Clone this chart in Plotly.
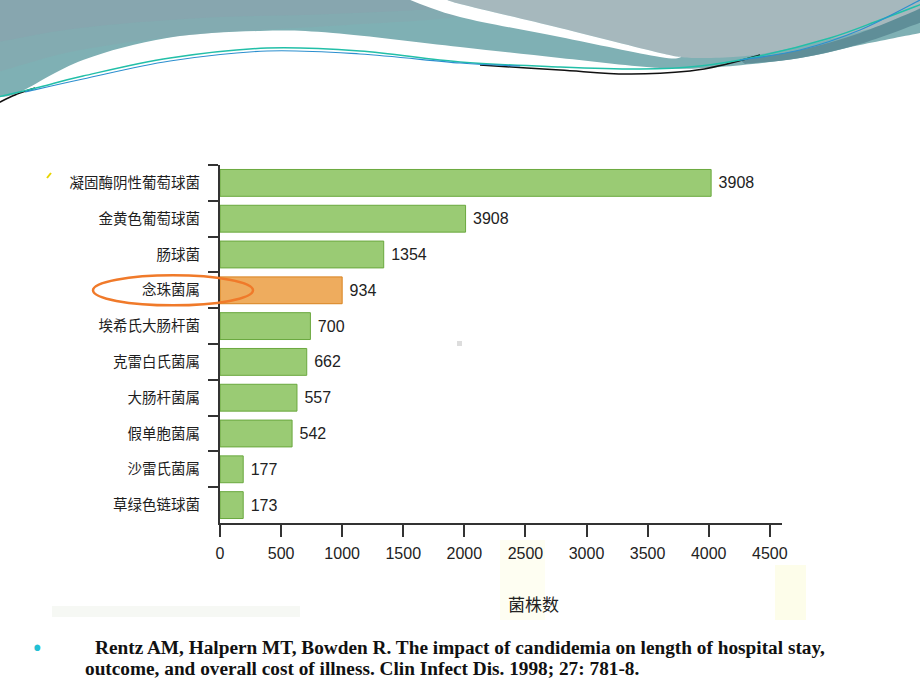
import plotly.graph_objects as go

# ---------------- data ----------------
categories = ["凝固酶阴性葡萄球菌", "金黄色葡萄球菌", "肠球菌", "念珠菌属", "埃希氏大肠杆菌",
              "克雷白氏菌属", "大肠杆菌属", "假单胞菌属", "沙雷氏菌属", "草绿色链球菌"]
bar_lengths = [4020, 2010, 1340, 1000, 740, 710, 630, 590, 190, 190]
value_labels = ["3908", "3908", "1354", "934", "700", "662", "557", "542", "177", "173"]
x_ticks = [0, 500, 1000, 1500, 2000, 2500, 3000, 3500, 4000, 4500]
x_title = "菌株数"
highlight = "念珠菌属"
citation_1 = "Rentz AM, Halpern MT, Bowden R. The impact of candidemia on length of hospital stay,"
citation_2 = "outcome, and overall cost of illness. Clin Infect Dis. 1998; 27: 781-8."

# ---------------- layout geometry ----------------
W, H = 920, 690
L, R, T, B = 220, 138, 165, 167
PW, PH = W - L - R, H - T - B


def px(x):
    return (x - L) / PW


def py(y):
    return (H - B - y) / PH


def smooth(points):
    """Catmull-Rom spline through pixel points -> SVG path in paper coords."""
    pts = [(px(a), py(b)) for a, b in points]
    d = "M%.5f,%.5f" % pts[0]
    n = len(pts)
    for i in range(n - 1):
        p0 = pts[i - 1] if i > 0 else pts[i]
        p1, p2 = pts[i], pts[i + 1]
        p3 = pts[i + 2] if i + 2 < n else pts[i + 1]
        c1 = (p1[0] + (p2[0] - p0[0]) / 6, p1[1] + (p2[1] - p0[1]) / 6)
        c2 = (p2[0] - (p3[0] - p1[0]) / 6, p2[1] - (p3[1] - p1[1]) / 6)
        d += " C%.5f,%.5f %.5f,%.5f %.5f,%.5f" % (c1 + c2 + p2)
    return d


def poly_smooth(top, bottom):
    return smooth(top) + " L" + smooth(bottom)[1:] + " Z"


colors = ["#eeac5e" if c == highlight else "#9acb74" for c in categories]
line_colors = ["#d9831f" if c == highlight else "#6aa83e" for c in categories]

NUM_FONT = "Liberation Sans, Arial, sans-serif"

fig = go.Figure()
fig.add_trace(go.Bar(
    y=categories, x=bar_lengths, orientation="h",
    marker=dict(color=colors, line=dict(color=line_colors, width=1)),
    text=value_labels, texttemplate="\u00a0%{text}", textposition="outside", cliponaxis=False,
    textfont=dict(family=NUM_FONT, size=16, color="#222222"),
    hoverinfo="skip",
))

shapes = []
# header decoration
teal_path = "M%.5f,%.5f L%.5f,%.5f L" % (px(-2), py(-2), px(922), py(-2)) + \
    "%.5f,%.5f L" % (px(922), py(33)) + \
    smooth([(920, 33), (860, 45), (800, 58), (720, 67), (660, 68), (560, 58), (460, 47),
            (333, 33), (260, 31), (167, 38), (83, 60), (20, 92), (0, 97)])[1:] + \
    " L%.5f,%.5f Z" % (px(-2), py(98))
shapes.append(dict(type="path", xref="paper", yref="paper", path=teal_path,
                   fillcolor="#7fb0b4", line=dict(width=0), layer="below"))
# upper-left gray tint (two soft layers)
shapes.append(dict(type="path", xref="paper", yref="paper",
                   path="M%.5f,%.5f L%.5f,%.5f L" % (px(-2), py(-2), px(420), py(-2)) +
                   smooth([(420, 0), (460, 16), (330, 26), (200, 34), (80, 50), (-2, 72)])[1:] + " Z",
                   fillcolor="#8ca2ad", line=dict(width=0), layer="below", opacity=0.35))
shapes.append(dict(type="path", xref="paper", yref="paper",
                   path="M%.5f,%.5f L%.5f,%.5f L" % (px(-2), py(-2), px(420), py(-2)) +
                   smooth([(420, 0), (440, 8), (330, 14), (200, 18), (80, 28), (-2, 42)])[1:] + " Z",
                   fillcolor="#8ca2ad", line=dict(width=0), layer="below", opacity=0.5))
dome = "M%.5f,%.5f L%.5f,%.5f L%.5f,%.5f L" % (px(443), py(-2), px(922), py(-2), px(922), py(8)) + \
    smooth([(920, 8), (893, 22), (827, 40), (767, 53), (733, 57), (700, 58), (680, 57),
            (660, 53), (560, 28), (460, 4), (443, -2)])[1:] + " Z"
shapes.append(dict(type="path", xref="paper", yref="paper", path=dome,
                   fillcolor="#a6b8bd", line=dict(width=0), layer="below"))
shapes.append(dict(type="path", xref="paper", yref="paper",
                   path=poly_smooth([(740, 60), (800, 50), (860, 33), (922, 8)],
                                    [(922, 22), (860, 44), (800, 58), (745, 64)]),
                   fillcolor="#5f8e98", line=dict(width=0), layer="below"))
stripe = poly_smooth([(405, -2), (460, 17), (560, 37), (660, 57), (682, 57)],
                     [(682, 57), (660, 53), (560, 28), (460, 4), (445, -2)])
shapes.append(dict(type="path", xref="paper", yref="paper", path=stripe,
                   fillcolor="white", line=dict(width=0), layer="below"))
# header lines
shapes.append(dict(type="path", xref="paper", yref="paper",
                   path=smooth([(-2, 103), (15, 95), (35, 88)]),
                   line=dict(color="#111111", width=1.5), layer="below"))
shapes.append(dict(type="path", xref="paper", yref="paper",
                   path=smooth([(480, 65), (560, 70), (627, 74), (690, 71), (727, 64), (760, 55)]),
                   line=dict(color="#111111", width=1.5), layer="below"))
shapes.append(dict(type="path", xref="paper", yref="paper",
                   path=smooth([(-2, 97), (40, 87), (83, 76), (170, 58), (267, 48), (360, 51),
                                (460, 62), (560, 67), (640, 69), (700, 66), (760, 56),
                                (830, 38), (880, 20), (922, 4)]),
                   line=dict(color="#22bfa8", width=1.5), layer="below"))
shapes.append(dict(type="path", xref="paper", yref="paper",
                   path=smooth([(25, 92), (83, 79), (170, 61), (267, 51), (360, 54),
                                (460, 63), (520, 66)]),
                   line=dict(color="#2c8fcf", width=1.2), layer="below"))
shapes.append(dict(type="path", xref="paper", yref="paper",
                   path=smooth([(740, 60), (800, 50), (860, 30), (922, -1)]),
                   line=dict(color="#2c8fcf", width=1.2), layer="below"))

# faint artifacts of the source picture
shapes.append(dict(type="rect", xref="paper", yref="paper", x0=px(500), x1=px(545),
                   y0=py(620), y1=py(540), fillcolor="#fefef2", line=dict(width=0), layer="below"))
shapes.append(dict(type="rect", xref="paper", yref="paper", x0=px(775), x1=px(806),
                   y0=py(620), y1=py(565), fillcolor="#fdfdea", line=dict(width=0), layer="below"))
shapes.append(dict(type="rect", xref="paper", yref="paper", x0=px(52), x1=px(300),
                   y0=py(617), y1=py(606), fillcolor="#f6f8f4", line=dict(width=0), layer="below"))
shapes.append(dict(type="rect", xref="paper", yref="paper", x0=px(457), x1=px(462),
                   y0=py(346), y1=py(341), fillcolor="#dddddd", line=dict(width=0), layer="below"))
shapes.append(dict(type="line", xref="paper", yref="paper", x0=px(47), x1=px(51),
                   y0=py(178), y1=py(173), line=dict(color="#e8d400", width=2)))

# highlight ellipse around 念珠菌属
hi = categories.index(highlight)
shapes.append(dict(type="circle", xref="paper", yref="y", x0=px(93), x1=px(253),
                   y0=hi - 0.42, y1=hi + 0.42, line=dict(color="#f07a2a", width=2.5)))

annotations = [
    dict(text=x_title, xref="paper", yref="paper", x=px(533), y=py(603),
         showarrow=False, xanchor="center", yanchor="middle",
         font=dict(family="Noto Sans CJK SC, sans-serif", size=17, color="#222222")),
    dict(text="•", xref="paper", yref="paper", x=px(37), y=py(647), showarrow=False,
         xanchor="center", yanchor="middle", font=dict(size=28, color="#22c0d4")),
    dict(text=citation_1, xref="paper", yref="paper", x=px(93), y=py(647), showarrow=False,
         xanchor="left", yanchor="middle",
         font=dict(family="Liberation Serif, serif", size=19.3, color="#111111", weight="bold")),
    dict(text=citation_2, xref="paper", yref="paper", x=px(83), y=py(668), showarrow=False,
         xanchor="left", yanchor="middle",
         font=dict(family="Liberation Serif, serif", size=19.3, color="#111111", weight="bold")),
]

fig.update_layout(
    width=W, height=H,
    margin=dict(l=L, r=R, t=T, b=B, pad=0),
    paper_bgcolor="white", plot_bgcolor="rgba(0,0,0,0)",
    showlegend=False, bargap=0.25,
    shapes=shapes, annotations=annotations,
    xaxis=dict(range=[0, 4600], tickvals=x_ticks, ticktext=[str(v) for v in x_ticks],
               showgrid=False, zeroline=False, showline=True, linecolor="#333333", linewidth=2,
               ticks="outside", ticklen=12, tickwidth=2, tickcolor="#333333",
               ticklabelstandoff=3,
               tickfont=dict(family=NUM_FONT, size=16, color="#222222")),
    yaxis=dict(categoryorder="array", categoryarray=categories, autorange="reversed",
               showgrid=False, zeroline=False, showline=True, linecolor="#333333", linewidth=2,
               ticks="outside", ticklen=10, tickwidth=2, tickcolor="#333333",
               tickson="boundaries", ticklabelstandoff=15,
               tickfont=dict(family="Noto Sans CJK SC, sans-serif", size=14.5, color="#1e1e1e")),
)

fig.write_html("out.html", config={"displayModeBar": False},
               post_script="document.body.style.margin='0';")
